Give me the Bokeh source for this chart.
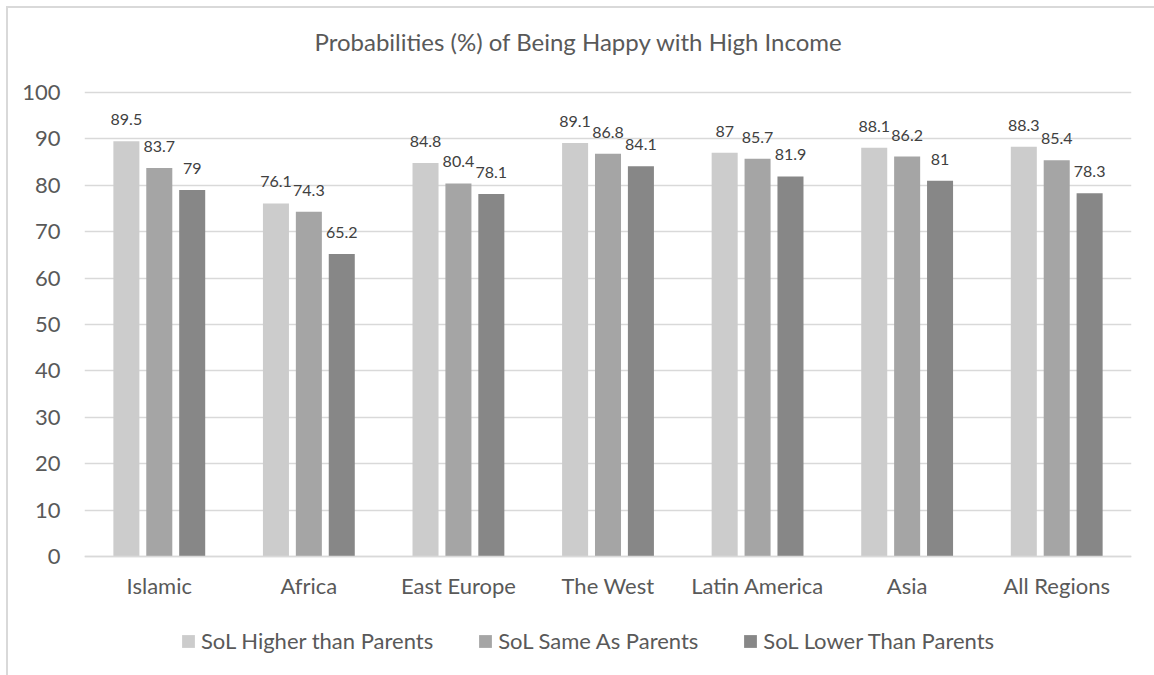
from bokeh.plotting import figure
from bokeh.models import (ColumnDataSource, FactorRange, Legend, LegendItem,
                          LabelSet, Label, FixedTicker)
from bokeh.core.properties import value
from bokeh.transform import dodge
from bokeh.embed import file_html
from bokeh.resources import INLINE

title_text = "Probabilities (%) of Being Happy with High Income"
regions = ["Islamic", "Africa", "East Europe", "The West", "Latin America", "Asia", "All Regions"]
series_names = ["SoL Higher than Parents", "SoL Same As Parents", "SoL Lower Than Parents"]
higher = [89.5, 76.1, 84.8, 89.1, 87.0, 88.1, 88.3]
same = [83.7, 74.3, 80.4, 86.8, 85.7, 86.2, 85.4]
lower = [79.0, 65.2, 78.1, 84.1, 81.9, 81.0, 78.3]
higher_lbl = ["89.5", "76.1", "84.8", "89.1", "87", "88.1", "88.3"]
same_lbl = ["83.7", "74.3", "80.4", "86.8", "85.7", "86.2", "85.4"]
lower_lbl = ["79", "65.2", "78.1", "84.1", "81.9", "81", "78.3"]
y_ticks = [0, 10, 20, 30, 40, 50, 60, 70, 80, 90, 100]

colors = ["#cccccc", "#a5a5a5", "#878787"]
FONT = "Lato"
TXT = "#595959"

src = ColumnDataSource(data=dict(region=regions, higher=higher, same=same, lower=lower,
                                 higher_lbl=higher_lbl, same_lbl=same_lbl, lower_lbl=lower_lbl))

# frame spans the full chart height so title and legend (drawn inside it) are visible
p = figure(x_range=FactorRange(*regions, range_padding=0), y_range=(-25.65, 118.1),
           frame_width=1047, frame_height=667, output_backend="svg", toolbar_location=None,
           min_border_left=76, min_border_right=23, min_border_top=0, min_border_bottom=0)
p.styles = {"margin-left": "6px", "margin-top": "6px",
            "border-left": "2px solid #d9d9d9", "border-top": "2px solid #d9d9d9"}

offsets = [-0.22, 0.0, 0.22]
keys = ["higher", "same", "lower"]
renderers = []
for k, off, c in zip(keys, offsets, colors):
    r = p.vbar(x=dodge("region", off, range=p.x_range), top=k, width=0.174, source=src,
               fill_color=c, line_color=None)
    renderers.append(r)
    lab = LabelSet(x=dodge("region", off, range=p.x_range), y=k, text=k + "_lbl", source=src,
                   text_align="center", text_baseline="alphabetic", y_offset=16,
                   text_font=value(FONT), text_font_size=value("16px"), text_color="#404040")
    p.add_layout(lab)

title = Label(x=230, y=634, x_units="screen", y_units="screen", text=title_text,
              text_align="left", text_baseline="alphabetic", text_font=FONT,
              text_font_size="24px", text_color=TXT)
p.add_layout(title)

p.outline_line_color = None
p.xgrid.grid_line_color = None
p.ygrid.ticker = FixedTicker(ticks=y_ticks)
p.ygrid.grid_line_color = "#d9d9d9"
p.ygrid.grid_line_width = 1.5
p.yaxis.ticker = FixedTicker(ticks=y_ticks)
p.yaxis.axis_line_color = None
p.yaxis.major_tick_line_color = None
p.yaxis.minor_tick_line_color = None
p.yaxis.major_label_standoff = 18
p.xaxis.fixed_location = 0
p.xaxis.axis_line_color = "#d9d9d9"
p.xaxis.axis_line_width = 1.5
p.xaxis.major_tick_line_color = None
p.xaxis.major_label_standoff = 10
for ax in (p.xaxis, p.yaxis):
    ax.major_label_text_font = FONT
    ax.major_label_text_font_size = "22px"
    ax.major_label_text_color = TXT

legend = Legend(items=[LegendItem(label=n, renderers=[r]) for n, r in zip(series_names, renderers)],
                orientation="horizontal", location=(96, 21), border_line_color=None,
                background_fill_alpha=0,
                label_text_font=FONT, label_text_font_size="22px", label_text_color=TXT,
                glyph_width=16, glyph_height=16, label_standoff=5, spacing=44, margin=0,
                padding=0)
p.add_layout(legend, "center")

open("out.html", "w").write(file_html(p, INLINE))
